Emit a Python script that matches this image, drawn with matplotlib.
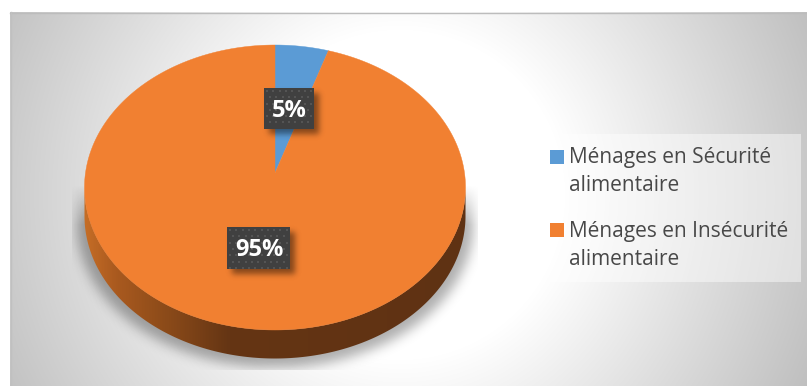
# -*- coding: utf-8 -*-
import numpy as np
import matplotlib
matplotlib.use('Agg')
import matplotlib.pyplot as plt
from matplotlib.colors import LinearSegmentedColormap
from matplotlib.patches import Polygon, Rectangle

plt.rcParams['font.family'] = ['Open Sans', 'DejaVu Sans']

categories = ['Ménages en Sécurité\nalimentaire', 'Ménages en Insécurité\nalimentaire']
values = [5, 95]
colors = ['#5b9bd5', '#f18031']

W, H = 807, 386
CX, RX = 275, 190.5
TOP, APEX, BOTTOM = 45, 173, 330
DEPTH = 28.5


def pie_xy(frac):
    # fraction of the turn, clockwise from the top -> pixel position on the tilted disc
    u = np.sin(2 * np.pi * frac)
    v = np.cos(2 * np.pi * frac)
    c = (BOTTOM + TOP - 2 * APEX) / (BOTTOM - TOP)
    a = (TOP * (1 + c) - BOTTOM * (1 - c)) / 2
    den = 1 + c * v
    return CX + RX * np.sqrt(1 - c * c) * u / den, (a * v + APEX) / den


def blur(arr, sigma):
    r = int(3 * sigma)
    k = np.exp(-0.5 * (np.arange(-r, r + 1) / sigma) ** 2)
    k /= k.sum()
    arr = np.apply_along_axis(lambda m: np.convolve(m, k, mode='same'), 0, arr)
    return np.apply_along_axis(lambda m: np.convolve(m, k, mode='same'), 1, arr)


fig = plt.figure(figsize=(W / 100, H / 100), dpi=100, facecolor='white')
ax = fig.add_axes([0, 0, 1, 1])

yy, xx = np.mgrid[0:H, 0:W] + 0.5

# background: round gradient, white in the middle and grey towards the corners
dist = np.hypot(xx - 400, yy - 195)
grey = np.clip(255 - 63 * (dist - 165) / 281, 190, 255) / 255
bg = np.dstack([grey, grey, grey, np.ones_like(grey)])
bg[yy < 12] = [1, 1, 1, 1]
bg[xx < 10] = [1, 1, 1, 1]
ax.imshow(bg, extent=(0, W, H, 0), zorder=0, interpolation='nearest')
ax.plot([10, W], [12.5, 12.5], color='#bcbcbc', lw=1, zorder=1)
ax.plot([10.5, 10.5], [12, H], color='#c0c0c0', lw=1, zorder=1)

# soft shadow under the disc
cy = (TOP + BOTTOM) / 2
ry = (BOTTOM - TOP) / 2
mask = np.zeros((H, W))
for s in np.linspace(0, DEPTH + 7, 14):
    mask = np.maximum(mask, ((xx - CX) / (RX + 8)) ** 2 + ((yy - cy - s) / (ry + 2)) ** 2 <= 1)
soft = blur(mask, 6)
soft = soft * np.clip((yy - 185) / 40, 0, 1)
soft[(yy > 370) | (xx < 72) | (xx > 478)] = 0
shadow = np.zeros((H, W, 4))
shadow[..., 3] = soft * 0.32
ax.imshow(shadow, extent=(0, W, H, 0), zorder=2, interpolation='bilinear')

# side of the disc, lighter on the left and going dark brown
c = (BOTTOM + TOP - 2 * APEX) / (BOTTOM - TOP)
start = np.arccos(-c) / (2 * np.pi)
fr = np.linspace(start, 1 - start, 300)
px, py = pie_xy(fr)
band = Polygon(np.r_[np.c_[px, py + DEPTH], np.c_[px, py][::-1]], closed=True,
               transform=ax.transData, fc='none', ec='none')
ax.add_patch(band)
cmap = LinearSegmentedColormap.from_list('side', [
    (0.0, '#c56d26'), (0.08, '#aa5a1f'), (0.22, '#8a4a19'), (0.38, '#653514'), (1.0, '#5f3213')])
side = ax.imshow(np.linspace(0, 1, 400)[None, :], cmap=cmap, extent=(84, 466, 360, 190),
                 aspect='auto', zorder=3)
side.set_clip_path(band)

# top of the disc, one wedge per category
cum = np.r_[0, np.cumsum(values)] / sum(values)
for i, col in enumerate(colors):
    t = np.linspace(cum[i], cum[i + 1], 400)
    x, y = pie_xy(t)
    ax.add_patch(Polygon(np.r_[[[CX, APEX]], np.c_[x, y]], closed=True, fc=col, ec=col,
                         lw=0.3, zorder=4))

# value labels on dark dotted boxes
boxes = [(264, 88, 50, 41), (227, 227, 63, 42)]
box_shadow = np.zeros((H, W))
for bx, by, bw, bh in boxes:
    box_shadow[by + 5:by + bh + 5, bx + 5:bx + bw + 5] = 1
layer = np.zeros((H, W, 4))
layer[..., 3] = blur(box_shadow, 3) * 0.45
ax.imshow(layer, extent=(0, W, H, 0), zorder=5, interpolation='bilinear')
for (bx, by, bw, bh), v in zip(boxes, values):
    ax.add_patch(Rectangle((bx, by), bw, bh, fc='#404040', ec='none', zorder=6))
    dx, dy = [], []
    for j, row in enumerate(np.arange(by + 3, by + bh - 1, 6.3)):
        off = 3.15 if j % 2 else 0
        for col in np.arange(bx + 3 + off, bx + bw - 1, 6.3):
            dx.append(col)
            dy.append(row)
    ax.scatter(dx, dy, s=2, marker='s', color='#545454', linewidths=0, zorder=7)
    ax.text(bx + bw / 2 + 0.5, by + bh / 2 + 2.5, f'{v}%', color='white', fontsize=17,
            fontweight='bold', ha='center', va='center', zorder=8)

# legend panel
ax.add_patch(Rectangle((537, 134), 264, 148, fc='white', ec='none', alpha=0.45, zorder=4))
for col, label, sy, ty in zip(colors, categories, [150, 223], [147, 221.5]):
    ax.add_patch(Rectangle((550, sy), 14, 14, fc=col, ec='none', zorder=5))
    ax.text(569, ty, label, color='#484848', fontsize=15, linespacing=1.42,
            ha='left', va='top', zorder=5)

ax.set_xlim(0, W)
ax.set_ylim(H, 0)
ax.axis('off')
fig.savefig('out.png', dpi=100)
